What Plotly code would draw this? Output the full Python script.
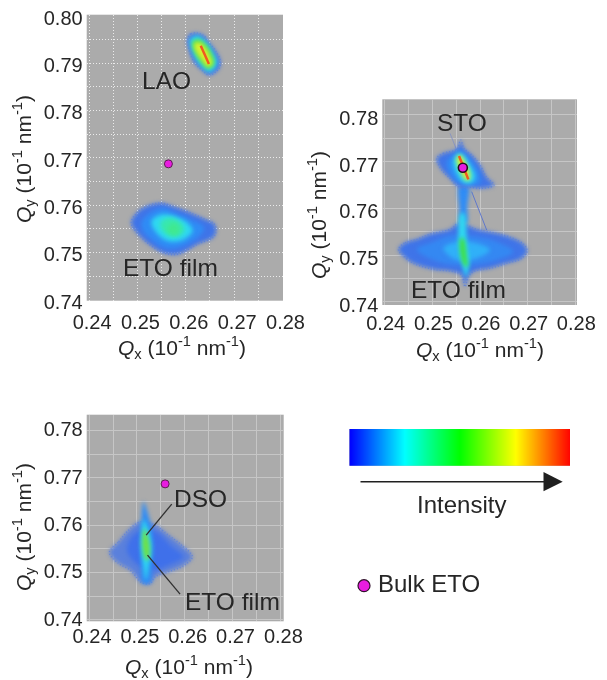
import plotly.graph_objects as go

W, H = 607, 680
FONT = "Liberation Sans"
INK = "#262626"
BG = "#ababab"

X_TICKS = [0.24, 0.25, 0.26, 0.27, 0.28]
X_TEXT = ["0.24", "0.25", "0.26", "0.27", "0.28"]
X_GRID = [0.245, 0.255, 0.265, 0.275]
Y1_TICKS = [0.74, 0.75, 0.76, 0.77, 0.78, 0.79, 0.80]
Y1_TEXT = ["0.74", "0.75", "0.76", "0.77", "0.78", "0.79", "0.80"]
Y1_GRID = [0.745, 0.755, 0.765, 0.775, 0.785, 0.795]
Y2_TICKS = [0.74, 0.75, 0.76, 0.77, 0.78]
Y2_TEXT = ["0.74", "0.75", "0.76", "0.77", "0.78"]
Y2_GRID = [0.745, 0.755, 0.765, 0.775]

BULK_X = [0.2564, 0.2564, 0.2559]
BULK_Y = [0.7687, 0.7687, 0.7687]

INTENSITY = [0.0, 0.25, 0.5, 0.75, 1.0]

# ---- panel 1: LAO
LAO1_X = [.26037, .26105, .2625, .26377, .26478, .26614, .26716, .26682, .26478, .26343, .26173, .26071]
LAO1_Y = [.79525, .79616, .7963, .79574, .79434, .79259, .79049, .78875, .78742, .78840, .79014, .79259]
LAO2_X = [.26091, .2624, .26363, .26478, .2658, .26648, .26614, .26478, .26343, .26207, .26119]
LAO2_Y = [.79504, .79574, .79504, .79364, .79189, .79035, .7891, .78805, .7891, .79084, .79294]
LAO3_X = [.26139, .26275, .2641, .26526, .26594, .26567, .26458, .26343, .26227, .26152]
LAO3_Y = [.79455, .79504, .79399, .79224, .79035, .78944, .78875, .7898, .79133, .79294]
LAO4_X = [.26173, .26295, .2639, .26499, .26546, .26458, .26343, .26241, .26186]
LAO4_Y = [.79413, .79434, .79343, .79154, .7898, .78924, .79049, .79189, .79294]
LAO_CORE_X = [.26309, .26478]
LAO_CORE_Y = [.79364, .7898]

# ---- panel 1: ETO film
ETO1_X = [.24869, .24985, .25222, .25494, .25765, .26105, .2641, .2658, .26628, .2658, .26241, .25833, .25562, .2529, .25019]
ETO1_Y = [.75624, .75834, .75988, .76044, .7596, .75834, .75694, .7561, .75484, .7533, .7517, .7496, .74981, .75135, .7538]
ETO2_X = [.25086, .25256, .25528, .25799, .26105, .26377, .26241, .25833, .25562, .2529, .2512]
ETO2_Y = [.75638, .75834, .75939, .75834, .75694, .75519, .7531, .751, .751, .75275, .7545]
ETO3_X = [.2529, .25494, .25765, .26037, .26139, .25935, .2563, .25392]
ETO3_Y = [.75659, .75799, .75764, .75624, .7545, .75261, .7524, .75415]
ETO4_X = [.25494, .25698, .25901, .25969, .25799, .25596, .25481]
ETO4_Y = [.75659, .75729, .75624, .7545, .75331, .7538, .75519]
ETO5_X = [.2563, .25765, .25867, .25833, .25698, .25616]
ETO5_Y = [.75554, .75624, .75519, .7538, .7538, .7545]

# ---- panel 2: STO
STO1_X = [.25091, .25231, .2551, .25594, .25664, .25825, .26, .2614, .26294, .2607, .2579, .25545, .25371, .25196]
STO1_Y = [.77071, .77179, .77264, .77464, .77286, .77143, .76929, .76664, .765, .76429, .7645, .76464, .76643, .76821]
STO2_X = [.25301, .25476, .2558, .2572, .25895, .26, .26, .2579, .2558, .25406]
STO2_Y = [.77, .77179, .7725, .77143, .76929, .76714, .76536, .765, .76536, .76679]
STO3_X = [.25441, .25545, .2565, .2579, .25895, .2586, .25685, .25545]
STO3_Y = [.77, .77179, .77143, .76929, .76714, .76571, .76536, .76679]
STO4_X = [.2551, .2558, .25685, .2579, .25776, .25706, .2558]
STO4_Y = [.77071, .77143, .77, .7675, .76607, .76607, .76821]
STO_CORE_X = [.2556, .25755]
STO_CORE_Y = [.77121, .76621]
TAIL_UP_X = [.25371, .2551]
TAIL_UP_Y = [.77607, .7725]
TAIL_DOWN_X = [.25825, .2614]
TAIL_DOWN_Y = [.76357, .75536]
STEM_X = [.25559, .25755, .25734, .2572, .25594, .25566]
STEM_Y = [.76464, .76464, .76036, .75679, .75679, .76036]

# ---- panel 2: ETO film
FILM1_X = [.24287, .24427, .24671, .24951, .25371, .25545, .2572, .2593, .2635, .26699, .26909, .26993, .26874, .2656, .2621, .2586, .25755, .25685, .25615, .25441, .25021, .24601, .24392]
FILM1_Y = [.75121, .75264, .75336, .7545, .7555, .75679, .75643, .7555, .75464, .75357, .75236, .75093, .74929, .74821, .74714, .74643, .74536, .74321, .74571, .74643, .74693, .74821, .74979]
FILM2_X = [.24671, .25021, .25441, .2593, .2635, .26699, .2635, .2586, .25441, .25021]
FILM2_Y = [.75121, .75286, .75429, .75393, .75286, .75071, .74893, .74786, .74786, .74893]
FILM3_X = [.25231, .2551, .2593, .2621, .2593, .2551]
FILM3_Y = [.75143, .75286, .7525, .75107, .74929, .74893]
NEEDLE1_X = [.25594, .25664, .25734, .25776, .25706, .25622, .25545]
NEEDLE1_Y = [.75893, .75893, .75179, .74821, .74536, .74821, .75321]
NEEDLE2_X = [.25594, .2565, .2572, .25734, .25664, .2558]
NEEDLE2_Y = [.75357, .75357, .74964, .7475, .74786, .75107]

# ---- panel 3: DSO + ETO film
DSO1_X = [.24424, .24618, .24792, .25069, .25382, .2566, .25937, .2616, .25972, .2566, .25382, .25278, .25104, .24861, .24618]
DSO1_Y = [.75423, .75648, .75859, .7607, .76, .75789, .75577, .75331, .75141, .75014, .74909, .74768, .74782, .75049, .7519]
DSO2_X = [.24792, .24965, .25382, .25729, .25972, .2566, .25347, .25035]
DSO2_Y = [.75472, .75824, .75859, .75542, .75331, .75155, .75049, .75155]
DSO3_X = [.25139, .25229, .25299, .25347, .25312, .25278, .25118, .2509, .25069, .2509]
DSO3_Y = [.76493, .76247, .75965, .75542, .7512, .74782, .74782, .7512, .75613, .76035]
DSO4_X = [.25139, .25229, .25299, .25243, .25187, .25139, .2509, .25104]
DSO4_Y = [.76106, .7593, .75542, .7512, .74838, .7512, .75542, .75859]
DSO5_X = [.25153, .25229, .25271, .25229, .25174, .25118, .25118]
DSO5_Y = [.7593, .75754, .75472, .75261, .75296, .75542, .75754]
LEAD_DSO_X = [.25729, .25194]
LEAD_DSO_Y = [.76444, .75789]
LEAD_ETO_X = [.25903, .25222]
LEAD_ETO_Y = [.74542, .75366]

C_OUT, C_BLUE, C_CYAN, C_TEAL, C_GREEN, C_YEL = "#3f74e8", "#2f8cf5", "#2fd8f0", "#38e8b0", "#50e050", "#d8f030"
C_CORE = "#f05a20"
RAINBOW = [[0, "#0000ff"], [.25, "#00ffff"], [.5, "#00ff00"], [.75, "#ffff00"], [1, "#ff0000"]]


def px_x(p):
    return p / W


def px_y(p):
    return 1 - p / H


fig = go.Figure()


def blob(n, xs, ys, color, fringe=False):
    fig.add_trace(go.Scatter(
        x=xs + xs[:1], y=ys + ys[:1], xaxis=f"x{n}", yaxis=f"y{n}", mode="lines", fill="toself",
        fillcolor=color, hoverinfo="skip", showlegend=False,
        line=dict(color="rgba(85,125,225,0.75)" if fringe else "rgba(0,0,0,0)", width=1.3 if fringe else 0,
                  shape="spline", dash="1px,2px" if fringe else "solid"),
    ))


def line(n, xs, ys, color, width):
    fig.add_trace(go.Scatter(x=xs, y=ys, xaxis=f"x{n}", yaxis=f"y{n}", mode="lines", hoverinfo="skip",
                             showlegend=False, line=dict(color=color, width=width)))


# panel 1
blob(1, LAO1_X, LAO1_Y, C_OUT, True)
blob(1, LAO2_X, LAO2_Y, C_CYAN)
blob(1, LAO3_X, LAO3_Y, C_GREEN)
blob(1, LAO4_X, LAO4_Y, C_YEL)
line(1, LAO_CORE_X, LAO_CORE_Y, C_CORE, 2.5)
blob(1, ETO1_X, ETO1_Y, C_OUT, True)
blob(1, ETO2_X, ETO2_Y, C_BLUE)
blob(1, ETO3_X, ETO3_Y, C_CYAN)
blob(1, ETO4_X, ETO4_Y, C_TEAL)
blob(1, ETO5_X, ETO5_Y, "#40e890")

# panel 2
line(2, TAIL_UP_X, TAIL_UP_Y, "#8a96c0", 1)
line(2, TAIL_DOWN_X, TAIL_DOWN_Y, "#5f78cc", 1)
blob(2, STEM_X, STEM_Y, C_BLUE)
blob(2, FILM1_X, FILM1_Y, C_OUT, True)
blob(2, FILM2_X, FILM2_Y, "#3488f2")
blob(2, FILM3_X, FILM3_Y, "#30b0f8")
blob(2, NEEDLE1_X, NEEDLE1_Y, C_CYAN)
blob(2, NEEDLE2_X, NEEDLE2_Y, "#40e040")
blob(2, STO1_X, STO1_Y, C_OUT, True)
blob(2, STO2_X, STO2_Y, C_BLUE)
blob(2, STO3_X, STO3_Y, C_CYAN)
blob(2, STO4_X, STO4_Y, C_YEL)
line(2, STO_CORE_X, STO_CORE_Y, C_CORE, 2.5)

# panel 3
blob(3, DSO1_X, DSO1_Y, "#5a80dc", True)
blob(3, DSO2_X, DSO2_Y, "#3f70ea")
blob(3, DSO3_X, DSO3_Y, C_BLUE)
blob(3, DSO4_X, DSO4_Y, C_CYAN)
blob(3, DSO5_X, DSO5_Y, "#70e040")
line(3, LEAD_DSO_X, LEAD_DSO_Y, "#303030", 1.3)
line(3, LEAD_ETO_X, LEAD_ETO_Y, "#303030", 1.3)

# bulk ETO reference point on each panel
for i, (bx, by) in enumerate(zip(BULK_X, BULK_Y), start=1):
    fig.add_trace(go.Scatter(x=[bx], y=[by], xaxis=f"x{i}", yaxis=f"y{i}", mode="markers", hoverinfo="skip",
                             showlegend=False,
                             marker=dict(size=9 if i == 2 else 8, color="#e81ce0",
                                         line=dict(color="#20101c" if i == 2 else "#5a2050", width=1.6 if i == 2 else 1))))

# intensity strip
fig.add_trace(go.Heatmap(z=[INTENSITY], x=INTENSITY, y=[0], xaxis="x4", yaxis="y4", colorscale=RAINBOW,
                         zmin=0, zmax=1, zsmooth="best", showscale=False, hoverinfo="skip"))


def axes(n, left, right, top, bottom, xr, yr, yt, ytt, ygrid, griddash, gridcolor, yshift, xshift, xoff):
    gridstyle = dict(showgrid=True, gridcolor=gridcolor, griddash=griddash, gridwidth=1)
    base = dict(showline=False, zeroline=False, ticks="", color=INK,
                tickfont=dict(family=FONT, size=20, color=INK), **gridstyle)
    fig.update_layout({
        f"xaxis{n}": dict(domain=[px_x(left), px_x(right)], range=xr, anchor=f"y{n}",
                          tickmode="array", tickvals=X_TICKS, ticktext=X_TEXT,
                          ticklabelshift=xshift, ticklabelstandoff=xoff,
                          minor=dict(tickmode="array", tickvals=X_GRID, ticks="", **gridstyle), **base),
        f"yaxis{n}": dict(domain=[px_y(bottom), px_y(top)], range=yr, anchor=f"x{n}",
                          tickmode="array", tickvals=yt, ticktext=ytt,
                          ticklabelshift=yshift, ticklabelstandoff=3,
                          minor=dict(tickmode="array", tickvals=ygrid, ticks="", **gridstyle), **base),
    })


axes(1, 86.7, 283, 14.7, 300.7, [.2395, .2801], [.7398, .8002], Y1_TICKS, Y1_TEXT, Y1_GRID, "1px,2px", "#ececec", 2, 3, 7)
axes(2, 382.3, 577, 99.3, 305, [.2395, .28035], [.73929, .78336], Y2_TICKS, Y2_TEXT, Y2_GRID, "solid", "#c6c6c6", 3, 1, 4)
axes(3, 86.7, 283.7, 414.7, 621.3, [.2395, .2807], [.7397, .7833], Y2_TICKS, Y2_TEXT, Y2_GRID, "solid", "#c6c6c6", -1, 3, 1)
fig.update_layout(
    xaxis4=dict(domain=[px_x(349.3), px_x(570)], range=[0, 1], anchor="y4", visible=False),
    yaxis4=dict(domain=[px_y(465.7), px_y(429)], range=[-.5, .5], anchor="x4", visible=False),
)


def label(text, x, y, size=24.5, angle=0):
    fig.add_annotation(text=text, xref="paper", yref="paper", x=px_x(x), y=px_y(y), showarrow=False,
                       xanchor="center", yanchor="middle", textangle=angle,
                       font=dict(family=FONT, size=size, color=INK))


QX = "<i>Q</i><sub>x</sub> (10<sup>-1</sup> nm<sup>-1</sup>)"
QY = "<i>Q</i><sub>y</sub> (10<sup>-1</sup> nm<sup>-1</sup>)"
for qx, qy in [((182, 347), (23, 159)), ((480, 350), (318, 215)), ((189, 666), (23, 527))]:
    label(QX, *qx, size=21)
    label(QY, *qy, size=21, angle=-90)

label("LAO", 166, 80)
label("ETO film", 170, 268)
label("STO", 461.7, 122.7)
label("ETO film", 459, 289.3)
label("DSO", 200.7, 498.3)
label("ETO film", 232.3, 601.7)
label("Intensity", 461.7, 504, size=24)
label("Bulk ETO", 429, 583, size=24)

# intensity arrow
fig.add_annotation(xref="paper", yref="paper", x=px_x(562.7), y=px_y(481.7), ax=-203.7, ay=0, axref="pixel",
                   ayref="pixel", text="", showarrow=True, arrowhead=2, arrowsize=2.4, arrowwidth=1.6,
                   arrowcolor="#202020")

# legend dot
fig.add_shape(type="circle", xref="paper", yref="paper", x0=px_x(358), x1=px_x(370), y0=px_y(591.7), y1=px_y(579.7),
              fillcolor="#e81ce0", line=dict(color="#30102a", width=1.2))

fig.update_layout(width=W, height=H, autosize=False,
                  margin=dict(l=0, r=0, t=0, b=0, pad=0, autoexpand=False),
                  paper_bgcolor="white", plot_bgcolor=BG, showlegend=False,
                  font=dict(family=FONT, color=INK))

fig.write_html("out.html", config={"displayModeBar": False},
               post_script="document.body.style.margin='0';"
                           "document.querySelectorAll('.scatterlayer .js-fill').forEach(e=>e.style.filter='blur(2.2px)');"
                           "document.querySelectorAll('.js-plotly-plot').forEach(e=>e.style.filter='blur(0.4px)');")
